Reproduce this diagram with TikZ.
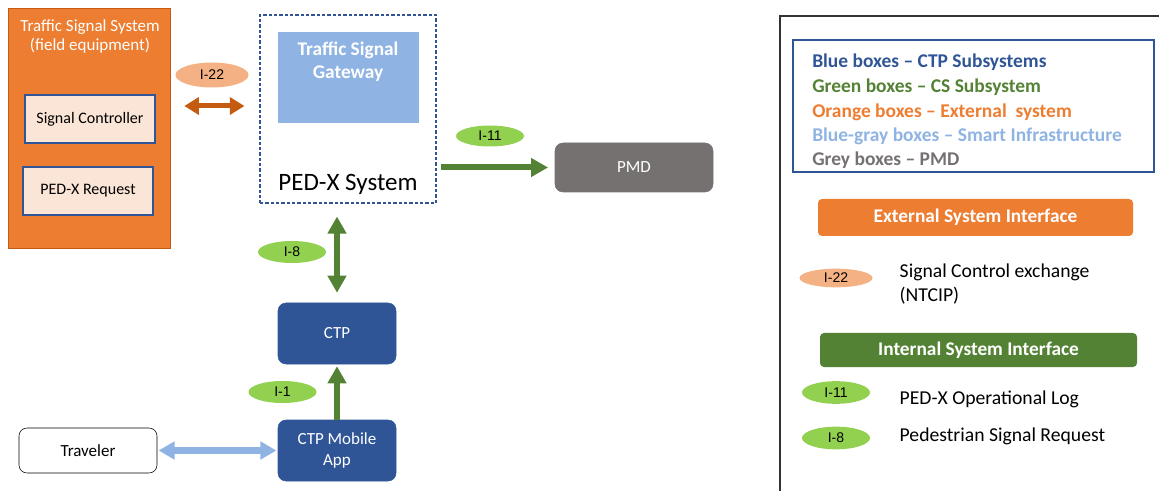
\documentclass[tikz,border=0pt]{standalone}
\usepackage{fontspec}
\setmainfont{Carlito}
\newfontfamily\arialfont{Liberation Sans}
\usetikzlibrary{shapes.geometric, arrows.meta, positioning, calc}
\definecolor{extorange}{HTML}{ED7D31}
\definecolor{extorangedark}{HTML}{C55A11}
\definecolor{extorangelight}{HTML}{FBE5D6}
\definecolor{ifacepeach}{HTML}{F4B183}
\definecolor{ctpblue}{HTML}{2F5597}
\definecolor{smartblue}{HTML}{8FB4E3}
\definecolor{csgreen}{HTML}{548235}
\definecolor{ifacegreen}{HTML}{92D050}
\definecolor{pmdgray}{HTML}{767171}

\tikzset{
  subbox/.style={draw=ctpblue, line width=0.8pt, fill=extorangelight, minimum width=97.5pt, minimum height=36pt, inner sep=0pt, font=\fontsize{12}{14}\selectfont},
  ctpbox/.style={draw=ctpblue, fill=ctpblue, rounded corners=6pt, text=white, align=center, minimum width=88.5pt, minimum height=45.75pt, inner sep=0pt, font=\fontsize{12.75}{15.5}\selectfont},
  tagoval/.style={ellipse, draw=none, inner sep=0pt, minimum width=51pt, minimum height=16.5pt, font=\arialfont\fontsize{10.5}{12}\selectfont},
  greentag/.style={tagoval, fill=ifacegreen},
  peachtag/.style={tagoval, fill=ifacepeach},
  tipbig/.tip={Triangle[length=12.75pt, width=13.5pt]},
  greenarrow/.style={csgreen, line width=4.5pt, -tipbig},
  greendarrow/.style={csgreen, line width=4.5pt, tipbig-tipbig},
  legtext/.style={anchor=west, align=left, font=\fontsize{14.75}{18}\selectfont},
  legbar/.style={rounded corners=3pt, text=white, inner sep=0pt, font=\bfseries\fontsize{14.5}{17}\selectfont},
}

\begin{document}
\begin{tikzpicture}[x=0.75pt, y=-0.75pt]
  \useasboundingbox (0,0) rectangle (1159,491);

  % External traffic signal system
  \node[draw=extorangedark, fill=extorange, minimum width=121.5pt, minimum height=180pt, inner sep=0pt] (tss) at (89,128) {};
  \node[text=white, align=center, font=\fontsize{12.75}{14.25}\selectfont] (tsstitle) at (90,36) {Traffic Signal System\\(field equipment)};
  \node[subbox] (sigctrl) at (90,119) {Signal Controller};
  \node[subbox] (pedreq) at (88,191) {PED-X Request};

  % PED-X system with gateway
  \node[draw=ctpblue, dashed, line width=0.8pt, dash pattern=on 2.5pt off 1.5pt, minimum width=132pt, minimum height=141pt, inner sep=0pt] (pedx) at (348,109) {};
  \node[fill=smartblue, minimum width=105.75pt, minimum height=68.25pt, inner sep=0pt] (tsg) at (348.5,77.5) {};
  \node[text=white, align=center, font=\bfseries\fontsize{14.5}{17.25}\selectfont] (tsgtext) at (348,61.5) {Traffic Signal\\Gateway};
  \node[font=\fontsize{18.75}{22}\selectfont] (pedxtitle) at (348,184) {PED-X System};

  % PMD, CTP and traveler
  \node[ctpbox, draw=pmdgray, fill=pmdgray, minimum width=118.5pt, minimum height=36.75pt] (pmd) at (634,167.5) {PMD};
  \node[ctpbox] (ctp) at (337,333.5) {CTP};
  \node[ctpbox] (ctpapp) at (337,450.5) {CTP Mobile\\App};
  \node[draw=black, rounded corners=6pt, minimum width=103.5pt, minimum height=33.75pt, inner sep=0pt, font=\fontsize{12.75}{15}\selectfont] (traveler) at (88,450.5) {Traveler};

  % Interfaces
  \coordinate (sigline) at (0,106);
  \draw[extorangedark, line width=3.75pt, {Triangle[length=11pt, width=12.75pt]}-{Triangle[length=11pt, width=12.75pt]}, shorten <=14pt*0.75, shorten >=15pt*0.75] (tss.east |- sigline) -- (pedx.west |- sigline);
  \node[peachtag, minimum width=54.75pt, minimum height=18.75pt] (i22) at (212,75) {I-22};

  \draw[greenarrow, shorten <=3pt, shorten >=5pt] (pedx.east |- pmd.west) -- (pmd.west);
  \node[greentag, minimum height=15.75pt] (i11) at (490,136) {I-11};

  \draw[greendarrow, shorten <=9.75pt, shorten >=7.5pt] (pedx.south -| ctp.north) -- (ctp.north);
  \node[greentag] (i8) at (292,252) {I-8};

  \draw[greenarrow, shorten >=1.5pt] (ctpapp.north) -- (ctp.south);
  \node[greentag] (i1) at (282.5,392) {I-1};

  \draw[smartblue, line width=4.75pt, {Triangle[length=12pt, width=13pt]}-{Triangle[length=12pt, width=13pt]}, shorten <=1pt, shorten >=1pt] (traveler.east) -- (ctpapp.west);

  % Legend
  \draw[black!80, line width=1.1pt] (780,495) -- (780,16) -- (1163,16);
  \node[draw=ctpblue, line width=0.8pt, minimum width=270.75pt, minimum height=99pt, inner sep=0pt] (legbox) at (973.5,106) {};
  \foreach \y/\col/\txt [count=\i] in {62/ctpblue/{Blue boxes -- CTP Subsystems}, 87/csgreen/{Green boxes -- CS Subsystem}, 112/extorange/{Orange boxes -- External\ \ system}, 136/smartblue/{Blue-gray boxes -- Smart Infrastructure}, 160/pmdgray/{Grey boxes -- PMD}} {
    \node[anchor=west, text=\col, inner sep=0pt, font=\bfseries\fontsize{14.6}{17}\selectfont] (legline\i) at (812,\y) {\txt};
  }

  \node[legbar, fill=extorange, minimum width=236.25pt, minimum height=27.75pt] (extbar) at (975.5,217.5) {External System Interface};
  \node[peachtag, minimum width=54.75pt, minimum height=14pt] (legi22) at (836,278) {I-22};
  \node[legtext] (legi22txt) at (895,284) {Signal Control exchange\\(NTCIP)};

  \node[legbar, fill=csgreen, minimum width=237.75pt, minimum height=25.5pt] (intbar) at (978.5,350) {Internal System Interface};
  \node[greentag, minimum height=17pt] (legi11) at (836,392.5) {I-11};
  \node[legtext] (legi11txt) at (895,399) {PED-X Operational Log};
  \node[greentag, minimum height=17pt] (legi8) at (836,438) {I-8};
  \node[legtext] (legi8txt) at (895,436) {Pedestrian Signal Request};
\end{tikzpicture}
\end{document}
